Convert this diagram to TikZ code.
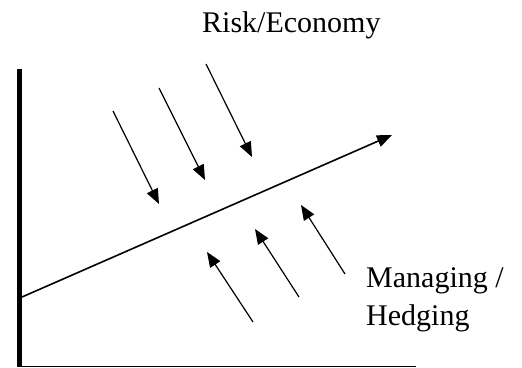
\documentclass[tikz,border=0pt]{standalone}
\usepackage{fontspec}
\setmainfont{Liberation Serif}
\usetikzlibrary{arrows.meta}
\begin{document}
\begin{tikzpicture}[x=1pt,y=-1pt,
    label text/.style={inner sep=0pt,font=\fontsize{30}{38}\selectfont},
    force/.style={line width=1.2pt,-{Triangle[length=15pt,width=12pt]}}]
    \useasboundingbox (0,0) rectangle (522,367);
    %% axes
    \coordinate (top) at (19.5,69);
    \coordinate (origin) at (19.5,367);
    \coordinate (right) at (416,366.5);
    \draw[line width=5pt] (top) -- (origin);
    \draw[line width=1.6pt] (17,366.5) -- (right);
    %% trend
    \coordinate (start) at (22,297);
    \coordinate (tip) at (392,135);
    \draw[line width=1.6pt,-{Triangle[length=15pt,width=12pt]}] (start) -- (tip);
    %% risk arrows
    \draw[force] (113,111) -- (159,204);
    \draw[force] (159,88) -- (205,180);
    \draw[force] (206,64) -- (252,157);
    %% hedging arrows
    \draw[force] (253,322) -- (207,252);
    \draw[force] (299,297) -- (255,229);
    \draw[force] (345,274) -- (301,205);
    %% labels
    \node[label text,anchor=base west] (risk) at (202,32) {Risk/Economy};
    \node[label text,anchor=base west,align=left] (hedge) at (366,325) {Managing /\\Hedging};
\end{tikzpicture}
\end{document}
